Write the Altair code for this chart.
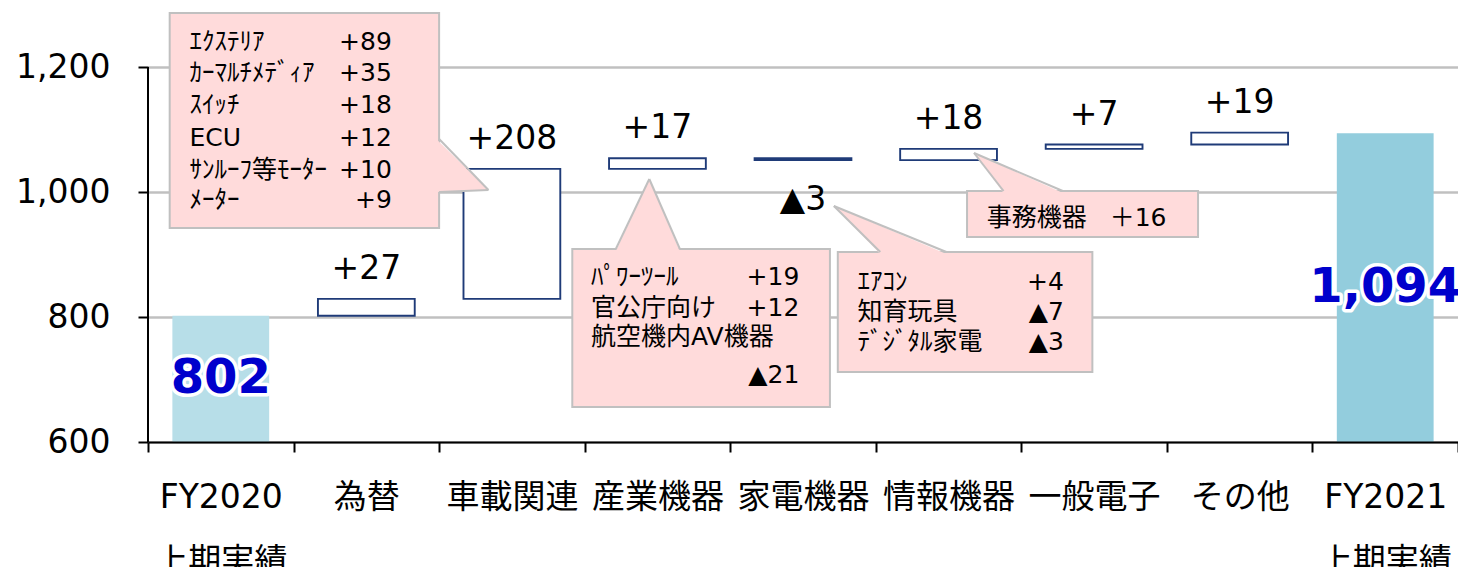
import altair as alt
import pandas as pd

# ---------------- data ----------------
CATEGORIES = ["FY2020 上期実績", "為替", "車載関連", "産業機器", "家電機器",
              "情報機器", "一般電子", "その他", "FY2021 上期実績"]
START_TOTAL = 802
END_TOTAL = 1094
DELTAS = [27, 208, 17, -3, 18, 7, 19]
Y_TICKS = [600, 800, 1000, 1200]

BOX1_ITEMS = ["ｴｸｽﾃﾘｱ", "ｶｰﾏﾙﾁﾒﾃﾞｨｱ", "ｽｲｯﾁ", "ECU", "ｻﾝﾙｰﾌ等ﾓｰﾀｰ", "ﾒｰﾀｰ"]
BOX1_VALUES = ["+89", "+35", "+18", "+12", "+10", "+9"]
BOX2_ITEMS = ["ﾊﾟﾜｰﾂｰﾙ", "官公庁向け", "航空機内AV機器", ""]
BOX2_VALUES = ["+19", "+12", "", "▲21"]
BOX3_ITEMS = ["ｴｱｺﾝ", "知育玩具", "ﾃﾞｼﾞﾀﾙ家電"]
BOX3_VALUES = ["+4", "▲7", "▲3"]
BOX4_ITEMS = ["事務機器"]
BOX4_VALUES = ["＋16"]

# ---------------- layout / style ----------------
Y_MIN, Y_MAX = 600, 1280
PLOT_W = 1310
PLOT_H = 425
BAR_BAND = 0.665
FONT = "DejaVu Sans, Noto Sans CJK JP, sans-serif"
NAVY = "#1f3b78"
PINK = "#ffdbdb"
GRAY = "#c0c0c0"
BLUE = "#0000cc"
TOTAL_COLORS = ["#b7dee8", "#93cddd"]

# callout boxes: x in category units (0..9), y in data units
BOXES = [(0.149, 2.0, 942.4, 1286.4),
         (2.915, 4.685, 656.0, 908.8),
         (4.739, 6.488, 712.0, 904.0),
         (5.627, 7.214, 928.0, 1001.6)]
TEXT_LEFT = [0.285, 3.044, 4.875, 5.763]
TEXT_RIGHT = [1.675, 4.475, 6.292, 6.997]
TEXT_ROWS = [[1240.5, 1190.4, 1139.2, 1086.4, 1035.2, 987.2],
             [864.0, 814.4, 768.0, 707.2],
             [856.0, 808.0, 760.0],
             [958.4]]
POINTERS = [  # base a, base b, tip, orientation
    ((2.0, 1084.8), (2.0, 1000.0), (2.339, 1003.2), "vertical"),
    ((3.214, 908.8), (3.654, 908.8), (3.444, 1020.8), "horizontal"),
    ((5.031, 904.0), (5.485, 904.0), (4.712, 977.6), "horizontal"),
    ((5.878, 1001.6), (6.285, 1001.6), (5.675, 1062.4), "horizontal"),
]

# ---------------- waterfall table ----------------
totals = pd.DataFrame({
    "cat": [CATEGORIES[0], CATEGORIES[-1]],
    "lo": [Y_MIN, Y_MIN],
    "hi": [START_TOTAL, END_TOTAL],
    "mid": [(Y_MIN + START_TOTAL) / 2, (Y_MIN + END_TOTAL) / 2],
    "label": [f"{START_TOTAL:,}", f"{END_TOTAL:,}"],
})
rows = []
level = START_TOTAL
for c, d in zip(CATEGORIES[1:-1], DELTAS):
    new = level + d
    rows.append({"cat": c, "lo": min(level, new), "hi": max(level, new),
                 "label": (f"+{d}" if d >= 0 else f"▲{-d}"), "pos": d >= 0})
    level = new
deltas = pd.DataFrame(rows)

xs = alt.Scale(domain=CATEGORIES, paddingInner=0, paddingOuter=0)
ys = alt.Scale(domain=[Y_MIN, Y_MAX], nice=False, zero=False)

x_axis = alt.Axis(labelExpr="isValid(datum.value) ? split(datum.value, ' ') : ''",
                  labelFontSize=33, labelFont=FONT,
                  labelColor="#000", labelPadding=29, labelLineHeight=64, labelAngle=0,
                  labelLimit=0, labelOverlap=False, tickBand="extent", tickSize=10,
                  tickWidth=2, tickColor="#000", domainColor="#000", domainWidth=2,
                  grid=False, zindex=1, title=None)
y_axis = alt.Axis(values=Y_TICKS, labelExpr="format(datum.value, ',')",
                  labelFontSize=33, labelFont=FONT,
                  labelColor="#000", labelPadding=28, tickSize=10, tickWidth=2,
                  tickColor="#000", domain=False, grid=True, gridColor=GRAY,
                  gridWidth=2.5, title=None)

total_bars = alt.Chart(totals).mark_bar(width=alt.RelativeBandSize(BAR_BAND)).encode(
    x=alt.X("cat:N", sort=CATEGORIES, scale=xs, axis=x_axis),
    y=alt.Y("lo:Q", scale=ys, axis=y_axis),
    y2="hi:Q",
    color=alt.Color("cat:N", scale=alt.Scale(domain=[CATEGORIES[0], CATEGORIES[-1]],
                                             range=TOTAL_COLORS), legend=None),
)
delta_boxes = alt.Chart(deltas).mark_bar(width=alt.RelativeBandSize(BAR_BAND), fill="white",
                                         stroke=NAVY, strokeWidth=1.9).encode(
    x=alt.X("cat:N", sort=CATEGORIES, scale=xs, title=None),
    y=alt.Y("lo:Q", scale=ys, title=None),
    y2="hi:Q",
)
y_line = alt.Chart(totals).mark_rule(color="#000", strokeWidth=2).encode(
    x=alt.value(0), y=alt.datum(Y_TICKS[0]), y2=alt.datum(Y_TICKS[-1]))

pos_labels = alt.Chart(deltas).transform_filter("datum.pos").mark_text(
    font=FONT, fontSize=33, color="#000", baseline="alphabetic", dy=-20).encode(
    x=alt.X("cat:N", sort=CATEGORIES, scale=xs, title=None),
    y=alt.Y("hi:Q", scale=ys, title=None), text="label:N")
neg_labels = alt.Chart(deltas).transform_filter("!datum.pos").mark_text(
    font=FONT, fontSize=33, color="#000", baseline="alphabetic", dy=50).encode(
    x=alt.X("cat:N", sort=CATEGORIES, scale=xs, title=None),
    y=alt.Y("lo:Q", scale=ys, title=None), text="label:N")

halo = alt.Chart(totals).mark_text(font=FONT, fontSize=48, fontWeight="bold", fill="white",
                                   stroke="white", strokeWidth=7, strokeJoin="round",
                                   baseline="middle").encode(
    x=alt.X("cat:N", sort=CATEGORIES, scale=xs, title=None),
    y=alt.Y("mid:Q", scale=ys, title=None), text="label:N")
total_text = alt.Chart(totals).mark_text(font=FONT, fontSize=48, fontWeight="bold",
                                         color=BLUE, baseline="middle").encode(
    x=alt.X("cat:N", sort=CATEGORIES, scale=xs, title=None),
    y=alt.Y("mid:Q", scale=ys, title=None), text="label:N")

main = alt.layer(total_bars, delta_boxes, y_line, pos_labels, neg_labels, halo, total_text)

# ---------------- callouts ----------------
qx = alt.Scale(domain=[0, len(CATEGORIES)], nice=False, zero=False)
box_df = pd.DataFrame([{"x0": b[0], "x1": b[1], "y0": b[2], "y1": b[3]} for b in BOXES])

vert_rows, horiz_rows, edge_rows = [], [], []
for i, (a, b, tip, orient) in enumerate(POINTERS):
    if orient == "vertical":
        vert_rows += [{"id": i, "x": a[0] - 0.02, "y": a[1], "y2": b[1]},
                      {"id": i, "x": tip[0], "y": tip[1], "y2": tip[1]}]
    else:
        horiz_rows += [{"id": i, "y": a[1] - 3, "x": a[0], "x2": b[0]},
                       {"id": i, "y": tip[1], "x": tip[0], "x2": tip[0]}]
    for j, p in enumerate((a, b)):
        edge_rows += [{"seg": f"{i}-{j}", "o": 0, "x": p[0], "y": p[1]},
                      {"seg": f"{i}-{j}", "o": 1, "x": tip[0], "y": tip[1]}]

text_rows = []
for k, (items, vals) in enumerate([(BOX1_ITEMS, BOX1_VALUES), (BOX2_ITEMS, BOX2_VALUES),
                                   (BOX3_ITEMS, BOX3_VALUES), (BOX4_ITEMS, BOX4_VALUES)]):
    for r, (it, v) in enumerate(zip(items, vals)):
        text_rows.append({"side": "l", "x": TEXT_LEFT[k], "y": TEXT_ROWS[k][r], "t": it})
        text_rows.append({"side": "r", "x": TEXT_RIGHT[k], "y": TEXT_ROWS[k][r], "t": v})
text_df = pd.DataFrame(text_rows)

c_boxes = alt.Chart(box_df).mark_rect(fill=PINK, stroke=GRAY, strokeWidth=2).encode(
    x=alt.X("x0:Q", scale=qx, axis=None), x2="x1:Q",
    y=alt.Y("y0:Q", scale=ys, title=None), y2="y1:Q")
c_vert = alt.Chart(pd.DataFrame(vert_rows)).mark_area(orient="vertical", fill=PINK).encode(
    x=alt.X("x:Q", scale=qx, axis=None), y=alt.Y("y:Q", scale=ys, title=None), y2="y2:Q",
    detail="id:N")
c_horiz = alt.Chart(pd.DataFrame(horiz_rows)).mark_area(orient="horizontal", fill=PINK).encode(
    y=alt.Y("y:Q", scale=ys, title=None), x=alt.X("x:Q", scale=qx, axis=None), x2="x2:Q",
    detail="id:N")
c_edges = alt.Chart(pd.DataFrame(edge_rows)).mark_line(color=GRAY, strokeWidth=2).encode(
    x=alt.X("x:Q", scale=qx, axis=None), y=alt.Y("y:Q", scale=ys, title=None),
    detail="seg:N", order="o:Q")
c_text_l = alt.Chart(text_df).transform_filter("datum.side == 'l'").mark_text(
    font=FONT, fontSize=25, color="#000", align="left", baseline="middle").encode(
    x=alt.X("x:Q", scale=qx, axis=None), y=alt.Y("y:Q", scale=ys, title=None), text="t:N")
c_text_r = alt.Chart(text_df).transform_filter("datum.side == 'r'").mark_text(
    font=FONT, fontSize=25, color="#000", align="right", baseline="middle").encode(
    x=alt.X("x:Q", scale=qx, axis=None), y=alt.Y("y:Q", scale=ys, title=None), text="t:N")

callouts = alt.layer(c_boxes, c_vert, c_horiz, c_edges, c_text_l, c_text_r)

chart = alt.layer(main, callouts).resolve_scale(x="independent").properties(
    width=PLOT_W, height=PLOT_H,
    autosize=alt.AutoSizeParams(type="none"),
    padding={"left": 140, "top": 9, "right": 0, "bottom": 150},
    background="white",
).configure_view(stroke=None)

chart.save("out.html", embed_options={"renderer": "svg", "actions": False})
